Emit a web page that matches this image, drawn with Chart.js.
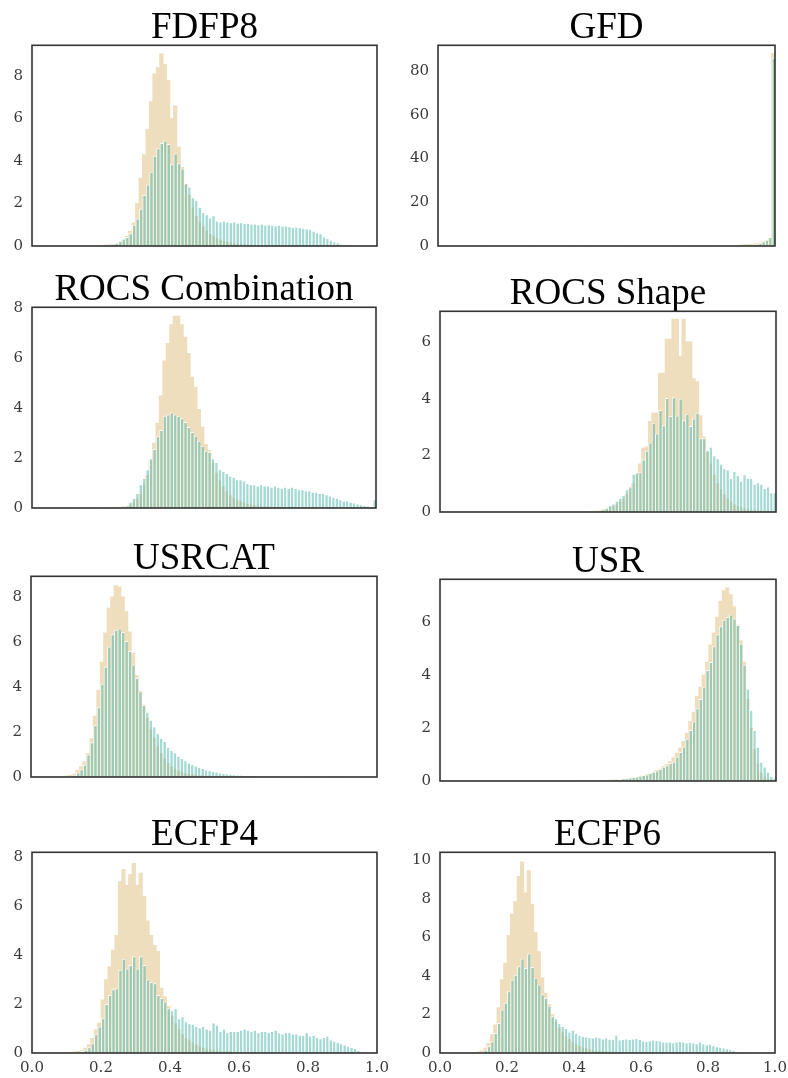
<!DOCTYPE html>
<html>
<head>
<meta charset="utf-8">
<script src="https://cdn.jsdelivr.net/npm/chart.js@4.4.1/dist/chart.umd.min.js"></script>
<style>
  html, body { margin: 0; padding: 0; background: #fff; }
  body { width: 788px; height: 1078px; position: relative; overflow: hidden; }
  canvas { position: absolute; }
</style>
</head>
<body>
<script>
// 100 bins on [0, 1]; A = wheat histogram (behind), B = teal histogram (front)
const panelTitles = ['FDFP8', 'GFD', 'ROCS Combination', 'ROCS Shape', 'USRCAT', 'USR', 'ECFP4', 'ECFP6'];
const xTickLabels = ['0.0', '0.2', '0.4', '0.6', '0.8', '1.0'];
const binCenters = Array.from({ length: 100 }, (_, i) => (i + 0.5) / 100);

const fdfp8A = [
  0, 0, 0, 0, 0, 0, 0, 0, 0, 0,
  0, 0, 0, 0, 0, 0, 0.01, 0.01, 0.02, 0.02,
  0.03, 0.04, 0.05, 0.07, 0.1, 0.15, 0.25, 0.45, 0.7, 1.1,
  2.0, 3.2, 4.3, 5.5, 6.8, 8.1, 8.4, 9.05, 8.55, 7.8,
  6.0, 6.6, 4.65, 3.7, 2.9, 2.4, 1.8, 1.4, 1.1, 0.9,
  0.7, 0.55, 0.45, 0.35, 0.28, 0.22, 0.17, 0.13, 0.1, 0.08,
  0.06, 0.05, 0.04, 0.04, 0.03, 0.03, 0.02, 0.02, 0.02, 0.01,
  0.01, 0.01, 0.01, 0.01, 0.01, 0, 0, 0, 0, 0,
  0, 0, 0, 0, 0, 0, 0, 0, 0, 0,
  0, 0, 0, 0, 0, 0, 0, 0, 0, 0
];
const fdfp8B = [
  0, 0, 0, 0, 0, 0, 0, 0, 0, 0,
  0, 0, 0, 0, 0, 0, 0.01, 0.01, 0.02, 0.03,
  0.03, 0.04, 0.05, 0.08, 0.15, 0.25, 0.35, 0.42, 0.6, 1.0,
  1.3, 1.75, 2.4, 2.9, 3.5, 4.25, 4.6, 4.85, 4.97, 4.8,
  3.85, 4.35, 3.9, 3.65, 2.95, 2.8, 2.3, 2.15, 1.85, 1.6,
  1.5, 1.35, 1.45, 1.2, 1.15, 1.2, 1.15, 1.12, 1.15, 1.1,
  1.12, 1.08, 1.1, 1.05, 1.05, 1.02, 1.05, 1.0, 1.02, 1.0,
  0.98, 1.0, 0.95, 0.97, 0.93, 0.9, 0.92, 0.88, 0.85, 0.82,
  0.8, 0.72, 0.65, 0.6, 0.45, 0.38, 0.3, 0.22, 0.16, 0.11,
  0.08, 0.06, 0.04, 0.03, 0.03, 0.02, 0.02, 0.01, 0.01, 0.01
];

const gfdA = [
  0, 0, 0, 0, 0, 0, 0, 0, 0, 0,
  0, 0, 0, 0, 0, 0, 0, 0, 0, 0,
  0, 0, 0, 0, 0, 0, 0, 0, 0, 0,
  0, 0, 0, 0, 0, 0, 0, 0, 0, 0,
  0, 0, 0, 0, 0, 0, 0, 0, 0, 0,
  0, 0, 0, 0, 0, 0, 0, 0, 0, 0,
  0.01, 0.01, 0.01, 0.01, 0.01, 0.02, 0.02, 0.02, 0.02, 0.03,
  0.03, 0.03, 0.04, 0.04, 0.04, 0.05, 0.05, 0.06, 0.06, 0.07,
  0.08, 0.09, 0.1, 0.12, 0.14, 0.17, 0.2, 0.25, 0.3, 0.4,
  0.5, 0.6, 0.7, 0.9, 1.1, 1.4, 1.9, 2.6, 3.6, 88
];
const gfdB = [
  0, 0, 0, 0, 0, 0, 0, 0, 0, 0,
  0, 0, 0, 0, 0, 0, 0, 0, 0, 0,
  0, 0, 0, 0, 0, 0, 0, 0, 0, 0,
  0, 0, 0, 0, 0, 0, 0, 0, 0, 0,
  0, 0, 0, 0, 0, 0, 0, 0, 0, 0,
  0, 0, 0, 0, 0, 0, 0, 0, 0, 0,
  0.01, 0.01, 0.01, 0.01, 0.01, 0.01, 0.02, 0.02, 0.02, 0.02,
  0.02, 0.03, 0.03, 0.03, 0.03, 0.04, 0.04, 0.05, 0.05, 0.06,
  0.06, 0.07, 0.08, 0.1, 0.12, 0.14, 0.17, 0.22, 0.27, 0.33,
  0.42, 0.5, 0.62, 0.8, 1.0, 1.4, 2.0, 2.8, 4.1, 86
];

const rocsCombA = [
  0, 0, 0, 0, 0, 0, 0, 0, 0, 0,
  0, 0, 0, 0, 0, 0, 0, 0, 0, 0,
  0, 0, 0, 0, 0.01, 0.02, 0.04, 0.06, 0.1, 0.2,
  0.35, 0.55, 0.9, 1.3, 1.9, 2.6, 3.4, 4.5, 5.9, 6.6,
  7.35, 7.7, 7.7, 7.35, 6.85, 6.2, 5.25, 4.85, 3.95, 3.25,
  2.55, 2.3, 1.8, 1.4, 1.1, 0.85, 0.65, 0.5, 0.4, 0.3,
  0.25, 0.2, 0.15, 0.12, 0.1, 0.08, 0.06, 0.05, 0.04, 0.03,
  0.03, 0.02, 0.02, 0.02, 0.01, 0.01, 0.01, 0.01, 0, 0,
  0, 0, 0, 0, 0, 0, 0, 0, 0, 0,
  0, 0, 0, 0, 0, 0, 0, 0, 0, 0
];
const rocsCombB = [
  0, 0, 0, 0, 0, 0, 0, 0, 0, 0,
  0, 0, 0, 0, 0, 0, 0, 0, 0, 0,
  0, 0, 0, 0, 0.01, 0.03, 0.05, 0.1, 0.25, 0.4,
  0.6, 0.95, 1.2, 1.55, 2.0, 2.37, 2.88, 3.13, 3.7, 3.75,
  3.83, 3.75, 3.7, 3.6, 3.45, 3.25, 3.05, 2.9, 2.7, 2.5,
  2.3, 2.25, 2.0, 1.85, 1.55, 1.48, 1.4, 1.3, 1.25, 1.15,
  1.15, 1.1, 1.0, 0.95, 0.95, 0.9, 0.95, 0.9, 0.9, 0.85,
  0.9, 0.85, 0.8, 0.85, 0.8, 0.85, 0.8, 0.75, 0.75, 0.7,
  0.7, 0.65, 0.65, 0.6, 0.6, 0.55, 0.5, 0.45, 0.4, 0.35,
  0.3, 0.3, 0.25, 0.22, 0.18, 0.15, 0.12, 0.1, 0.08, 0.35
];

const rocsShapeA = [
  0, 0, 0, 0, 0, 0, 0, 0, 0, 0,
  0, 0, 0, 0, 0, 0, 0, 0, 0, 0,
  0, 0, 0, 0, 0, 0, 0, 0, 0, 0,
  0, 0, 0, 0, 0, 0, 0, 0, 0, 0,
  0, 0, 0, 0, 0.01, 0.02, 0.03, 0.05, 0.08, 0.1,
  0.15, 0.2, 0.25, 0.35, 0.45, 0.6, 0.8, 1.0, 1.3, 1.7,
  2.25, 2.3, 3.2, 3.5, 3.5, 4.9, 4.9, 6.1, 6.1, 6.8,
  6.8, 5.5, 6.8, 6.0, 6.0, 4.7, 4.6, 3.4, 2.65, 2.1,
  1.7, 1.3, 1.0, 0.8, 0.6, 0.45, 0.35, 0.25, 0.2, 0.15,
  0.1, 0.08, 0.06, 0.05, 0.04, 0.03, 0.02, 0.02, 0.01, 0.01
];
const rocsShapeB = [
  0, 0, 0, 0, 0, 0, 0, 0, 0, 0,
  0, 0, 0, 0, 0, 0, 0, 0, 0, 0,
  0, 0, 0, 0, 0, 0, 0, 0, 0, 0,
  0, 0, 0, 0, 0, 0, 0, 0, 0, 0,
  0, 0, 0, 0, 0.01, 0.02, 0.04, 0.06, 0.1, 0.15,
  0.25, 0.3, 0.4, 0.5, 0.6, 0.8, 0.9, 1.35, 1.4, 1.4,
  1.85, 2.16, 2.45, 3.15, 2.77, 3.6, 3.06, 4.02, 3.39, 4.05,
  3.4, 4.0, 3.24, 3.47, 3.03, 3.3, 3.5, 2.6, 2.6, 2.2,
  2.3, 2.0, 1.9, 1.7, 1.55, 1.5, 1.2, 1.45, 1.3, 1.1,
  1.33, 1.2, 1.2, 1.0, 1.05, 1.0, 0.85, 0.9, 0.7, 0.7
];

const usrcatA = [
  0, 0, 0, 0, 0, 0, 0, 0, 0, 0,
  0.05, 0.08, 0.13, 0.3, 0.45, 0.68, 1.05, 1.7, 2.7, 3.85,
  5.1, 6.4, 7.5, 8.0, 8.5, 8.45, 8.0, 7.35, 6.45, 5.5,
  4.5, 3.8, 3.2, 2.6, 2.1, 1.7, 1.35, 1.05, 0.8, 0.6,
  0.45, 0.35, 0.27, 0.2, 0.15, 0.12, 0.1, 0.08, 0.06, 0.05,
  0.04, 0.04, 0.03, 0.03, 0.03, 0.02, 0.02, 0.02, 0.02, 0.02,
  0.01, 0.01, 0.01, 0.01, 0.01, 0.01, 0.01, 0.01, 0.01, 0.01,
  0.01, 0.01, 0.01, 0.01, 0.01, 0.01, 0.01, 0.01, 0.01, 0.01,
  0.01, 0.01, 0.01, 0.01, 0.01, 0.01, 0.01, 0.01, 0.01, 0.01,
  0, 0, 0, 0, 0, 0, 0, 0, 0, 0
];
const usrcatB = [
  0, 0, 0, 0, 0, 0, 0, 0, 0, 0,
  0.02, 0.05, 0.1, 0.2, 0.35, 0.55, 1.0, 1.55, 2.3, 3.1,
  4.15, 4.9, 5.8, 6.35, 6.55, 6.6, 6.45, 6.05, 5.6, 5.0,
  4.4, 3.8, 3.2, 2.9, 2.55, 2.25, 1.95, 1.75, 1.6, 1.35,
  1.2, 1.1, 0.95, 0.85, 0.75, 0.65, 0.58, 0.5, 0.45, 0.4,
  0.35, 0.3, 0.27, 0.24, 0.2, 0.18, 0.16, 0.14, 0.12, 0.11,
  0.1, 0.09, 0.08, 0.08, 0.07, 0.06, 0.05, 0.05, 0.04, 0.04,
  0.04, 0.03, 0.03, 0.03, 0.03, 0.02, 0.02, 0.02, 0.02, 0.02,
  0.02, 0.01, 0.01, 0.01, 0.01, 0.01, 0.01, 0.01, 0.01, 0.01,
  0.01, 0.01, 0.01, 0.01, 0.01, 0.01, 0.01, 0.01, 0.01, 0.01
];

const usrA = [
  0, 0, 0, 0, 0, 0, 0, 0, 0, 0,
  0, 0, 0, 0, 0, 0, 0, 0, 0, 0,
  0, 0, 0, 0, 0, 0, 0, 0, 0, 0,
  0, 0, 0, 0, 0, 0, 0, 0, 0, 0,
  0.01, 0.01, 0.01, 0.01, 0.01, 0.02, 0.02, 0.02, 0.02, 0.02,
  0.03, 0.04, 0.05, 0.06, 0.07, 0.08, 0.1, 0.12, 0.14, 0.17,
  0.2, 0.24, 0.28, 0.33, 0.4, 0.45, 0.55, 0.63, 0.73, 0.88,
  1.05, 1.25, 1.5, 1.8, 2.25, 2.6, 3.2, 3.55, 4.0, 4.5,
  5.15, 5.6, 6.2, 6.8, 7.2, 7.3, 7.05, 6.6, 5.9, 5.3,
  4.5, 3.1, 2.0, 1.2, 0.65, 0.3, 0.15, 0.08, 0.04, 0.02
];
const usrB = [
  0, 0, 0, 0, 0, 0, 0, 0, 0, 0,
  0, 0, 0, 0, 0, 0, 0, 0, 0, 0,
  0, 0, 0, 0, 0, 0, 0, 0, 0, 0,
  0, 0, 0, 0, 0, 0.01, 0.01, 0.01, 0.01, 0.01,
  0.02, 0.02, 0.02, 0.02, 0.02, 0.03, 0.03, 0.03, 0.03, 0.03,
  0.05, 0.06, 0.07, 0.08, 0.1, 0.11, 0.13, 0.15, 0.17, 0.2,
  0.23, 0.25, 0.3, 0.35, 0.4, 0.45, 0.54, 0.6, 0.67, 0.73,
  0.92, 1.1, 1.3, 1.6, 1.93, 2.25, 2.75, 3.1, 3.57, 4.2,
  4.5, 5.1, 5.55, 5.85, 6.1, 6.2, 6.3, 6.15, 5.9, 5.2,
  4.4, 3.5, 2.7, 1.93, 1.3, 0.73, 0.55, 0.35, 0.19, 0.13
];

const ecfp4A = [
  0, 0, 0, 0, 0, 0, 0, 0, 0, 0,
  0.01, 0.02, 0.04, 0.07, 0.1, 0.2, 0.34, 0.6, 0.95, 1.22,
  2.17, 3.0, 3.53, 4.2, 4.8, 7.0, 7.5, 6.85, 7.3, 7.75,
  6.85, 7.35, 6.4, 5.4, 4.8, 4.4, 4.15, 2.65, 2.3, 1.9,
  1.5, 1.2, 0.95, 0.75, 0.6, 0.5, 0.4, 0.32, 0.26, 0.2,
  0.16, 0.13, 0.1, 0.08, 0.06, 0.05, 0.04, 0.03, 0.03, 0.02,
  0.02, 0.01, 0.01, 0.01, 0.01, 0.01, 0, 0, 0, 0,
  0, 0, 0, 0, 0, 0, 0, 0, 0, 0,
  0, 0, 0, 0, 0, 0, 0, 0, 0, 0,
  0, 0, 0, 0, 0, 0, 0, 0, 0, 0
];
const ecfp4B = [
  0, 0, 0, 0, 0, 0, 0, 0, 0, 0,
  0.01, 0.02, 0.03, 0.05, 0.08, 0.13, 0.23, 0.4, 0.77, 1.08,
  1.42, 2.0, 2.37, 2.6, 2.65, 3.4, 3.85, 3.45, 3.6, 3.95,
  3.45, 3.95, 3.6, 3.0, 2.9, 2.85, 2.37, 2.25, 2.1, 1.83,
  1.75, 1.83, 1.42, 1.5, 1.3, 1.22, 1.2, 1.1, 1.05, 1.1,
  1.0, 0.95, 1.25, 1.15, 0.9, 1.0, 0.85, 0.9, 0.9, 0.9,
  0.95, 1.0, 0.95, 0.9, 0.95, 0.85, 0.9, 0.9, 0.85, 0.9,
  0.95, 0.85, 0.8, 0.85, 0.85, 0.8, 0.8, 0.75, 0.75, 0.85,
  0.7, 0.75, 0.65, 0.6, 0.65, 0.7, 0.55, 0.5, 0.45, 0.4,
  0.35, 0.3, 0.25, 0.2, 0.12, 0.08, 0.05, 0.03, 0.02, 0.02
];

const ecfp6A = [
  0, 0, 0, 0, 0, 0, 0, 0.01, 0.01, 0.02,
  0.03, 0.06, 0.12, 0.25, 0.5, 0.95, 1.45, 2.35, 3.8, 4.65,
  6.1, 7.2, 7.85, 9.15, 9.9, 8.3, 9.45, 7.7, 6.25, 5.25,
  3.9, 3.1, 2.5, 2.0, 1.6, 1.3, 1.05, 0.85, 0.7, 0.55,
  0.45, 0.35, 0.28, 0.22, 0.18, 0.14, 0.11, 0.09, 0.07, 0.06,
  0.05, 0.04, 0.04, 0.03, 0.03, 0.02, 0.02, 0.01, 0.01, 0.01,
  0.01, 0.01, 0.01, 0.01, 0.01, 0.01, 0.01, 0.01, 0.01, 0.01,
  0, 0, 0, 0, 0, 0, 0, 0, 0, 0,
  0, 0, 0, 0, 0, 0, 0, 0, 0, 0,
  0, 0, 0, 0, 0, 0, 0, 0, 0, 0
];
const ecfp6B = [
  0, 0, 0, 0, 0, 0, 0, 0, 0, 0,
  0.01, 0.03, 0.08, 0.17, 0.35, 0.6, 1.03, 1.55, 2.25, 2.6,
  3.2, 3.8, 4.05, 4.5, 4.9, 4.4, 5.15, 4.45, 3.9, 3.55,
  3.05, 2.85, 2.45, 1.9, 1.8, 1.55, 1.4, 1.3, 1.12, 1.2,
  1.03, 0.95, 0.9, 0.86, 0.83, 0.8, 0.86, 0.82, 0.75, 0.8,
  0.74, 0.72, 0.95, 0.7, 0.72, 0.75, 0.72, 0.75, 0.78, 0.72,
  0.65, 0.62, 0.65, 0.7, 0.68, 0.65, 0.6, 0.58, 0.6, 0.55,
  0.6, 0.62, 0.6, 0.55, 0.57, 0.55, 0.5, 0.6, 0.5, 0.45,
  0.48, 0.4, 0.35, 0.33, 0.28, 0.25, 0.2, 0.15, 0.1, 0.08,
  0.05, 0.03, 0.02, 0.01, 0.01, 0.01, 0, 0, 0, 0
];

const seriesA = [fdfp8A, gfdA, rocsCombA, rocsShapeA, usrcatA, usrA, ecfp4A, ecfp6A];
const seriesB = [fdfp8B, gfdB, rocsCombB, rocsShapeB, usrcatB, usrB, ecfp4B, ecfp6B];

// axis limits per panel
const yMaxes = [9.45, 91.7, 8.05, 7.08, 8.92, 7.63, 8.2, 10.4];
const ySteps = [2, 20, 2, 2, 2, 2, 2, 2];

// frame boxes on the page: [left, top, right, bottom]
const frames = [
  [32, 45, 377, 246], [438, 45, 775, 246],
  [32, 307, 376, 508], [440, 311, 776, 512],
  [31, 576, 377, 777], [440, 579, 776, 781],
  [32, 852, 377, 1053], [440, 852, 775, 1053]
];

const TITLE_SIZE = 37;
const TITLE_LH = 0.9;
const TITLE_H = TITLE_SIZE * TITLE_LH;
const tickFont = { family: "'DejaVu Serif', serif", size: 15 };
const tickColor = '#3a3a3a';

const framePlugin = {
  id: 'frame',
  afterDatasetsDraw(chart) {
    const { ctx, chartArea: a } = chart;
    ctx.save();
    ctx.strokeStyle = '#333';
    ctx.lineWidth = 1.6;
    ctx.strokeRect(a.left, a.top, a.right - a.left, a.bottom - a.top);
    ctx.restore();
  }
};

panelTitles.forEach((title, i) => {
  const [l, t, r, b] = frames[i];
  const bottomRow = i >= 6;
  const left = i % 2 === 0 ? 0 : 396;
  const yw = l - left;
  const padR = 12;
  const padB = bottomRow ? 3 : 10;
  const xh = bottomRow ? 22 : 0;
  const cw = yw + (r - l) + padR;
  const ch = TITLE_H + (b - t) + xh + padB;

  const canvas = document.createElement('canvas');
  canvas.width = cw;
  canvas.height = Math.round(ch);
  canvas.style.left = left + 'px';
  canvas.style.top = (t - TITLE_H) + 'px';
  canvas.style.width = cw + 'px';
  canvas.style.height = Math.round(ch) + 'px';
  document.body.appendChild(canvas);

  new Chart(canvas.getContext('2d'), {
    type: 'bar',
    data: {
      datasets: [
        {
          data: seriesA[i].map((v, k) => ({ x: binCenters[k], y: v })),
          backgroundColor: '#EFDEBE',
          borderWidth: 0,
          inflateAmount: 0.4,
          order: 2
        },
        {
          data: seriesB[i].map((v, k) => ({ x: binCenters[k], y: v })),
          backgroundColor: 'rgba(75,181,169,0.5)',
          borderColor: 'rgba(255,255,255,0.85)',
          borderWidth: { left: 1, top: 1, right: 0, bottom: 0 },
          inflateAmount: 0,
          order: 1
        }
      ]
    },
    options: {
      responsive: false,
      animation: false,
      devicePixelRatio: 1,
      layout: { padding: { top: 0, left: 0, right: padR, bottom: padB } },
      datasets: { bar: { grouped: false, barPercentage: 1, categoryPercentage: 1 } },
      plugins: {
        legend: { display: false },
        tooltip: { enabled: false },
        title: {
          display: true,
          text: title,
          fullSize: false,
          color: '#000',
          font: { family: "'Liberation Serif', serif", size: TITLE_SIZE, weight: 'normal', lineHeight: TITLE_LH },
          padding: { top: 0, bottom: 0 }
        }
      },
      scales: {
        x: {
          type: 'linear',
          min: 0,
          max: 1,
          offset: false,
          display: bottomRow,
          grid: { display: false, drawTicks: false },
          border: { display: false },
          ticks: {
            stepSize: 0.2,
            padding: 6,
            maxRotation: 0,
            autoSkip: false,
            font: tickFont,
            color: tickColor,
            callback: v => xTickLabels[Math.round(v * 5)]
          },
          afterFit: s => { s.height = xh; s.paddingLeft = 0; s.paddingRight = 0; }
        },
        y: {
          min: 0,
          max: yMaxes[i],
          grid: { display: false, drawTicks: false },
          border: { display: false },
          ticks: {
            stepSize: ySteps[i],
            includeBounds: false,
            padding: 9,
            font: tickFont,
            color: tickColor
          },
          afterFit: s => { s.width = yw; s.paddingTop = 0; s.paddingBottom = 0; }
        }
      }
    },
    plugins: [framePlugin]
  });
});
</script>
</body>
</html>
